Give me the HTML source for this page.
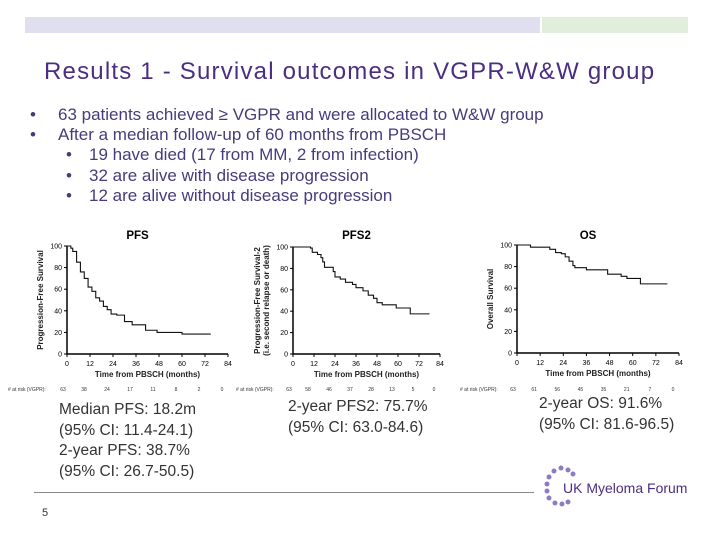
<!DOCTYPE html>
<html><head><meta charset="utf-8"><style>
body{margin:0;width:720px;height:540px;background:#fff;position:relative;overflow:hidden;font-family:"Liberation Sans",sans-serif}
.abs{position:absolute}
.b{position:absolute;font-size:17px;color:#463c7c;white-space:nowrap}
.note{position:absolute;font-size:15.5px;color:#333;line-height:20.7px;white-space:nowrap}
</style></head><body>
<div class="abs" style="left:25px;top:17px;width:515px;height:16px;background:#e0dff0"></div>
<div class="abs" style="left:542px;top:17px;width:146px;height:16px;background:#e2eedc"></div>
<div class="abs" style="left:44px;top:58px;font-size:24px;letter-spacing:1.2px;color:#4b2e83;white-space:nowrap">Results 1 - Survival outcomes in VGPR-W&amp;W group</div>
<div class="b" style="left:30px;top:105px">•<span style="position:absolute;left:28px">63 patients achieved ≥ VGPR and were allocated to W&amp;W group</span></div>
<div class="b" style="left:30px;top:125px">•<span style="position:absolute;left:28px">After a median follow-up of 60 months from PBSCH</span></div>
<div class="b" style="left:66px;top:145px">•<span style="position:absolute;left:23px">19 have died (17 from MM, 2 from infection)</span></div>
<div class="b" style="left:66px;top:166px">•<span style="position:absolute;left:23px">32 are alive with disease progression</span></div>
<div class="b" style="left:66px;top:186px">•<span style="position:absolute;left:23px">12 are alive without disease progression</span></div>
<svg id="ch" class="abs" style="left:0;top:0" width="720" height="540"></svg>
<div class="note" style="left:59px;top:400px">Median PFS: 18.2m<br>(95% CI: 11.4-24.1)<br>2-year PFS: 38.7%<br>(95% CI: 26.7-50.5)</div>
<div class="note" style="left:288px;top:397px">2-year PFS2: 75.7%<br>(95% CI: 63.0-84.6)</div>
<div class="note" style="left:539px;top:394px">2-year OS: 91.6%<br>(95% CI: 81.6-96.5)</div>
<div class="abs" style="left:34px;top:492px;width:500px;height:1px;background:#888"></div>
<div class="abs" style="left:42px;top:507px;font-size:11px;color:#333">5</div>
<div class="abs" style="left:563px;top:480px;font-size:14px;color:#4b2e83;white-space:nowrap">UK Myeloma Forum</div>
<svg class="abs" style="left:540px;top:462px" width="40" height="60">
<g fill="#8e7cc3"><circle cx="14" cy="9" r="2.5"/><circle cx="21" cy="6" r="2.5"/><circle cx="28" cy="8" r="2.5"/><circle cx="33" cy="12" r="2.5"/><circle cx="9" cy="15" r="2.5"/><circle cx="7" cy="22" r="2.5"/><circle cx="7" cy="29" r="2.5"/><circle cx="9" cy="36" r="2.5"/><circle cx="15" cy="41" r="2.5"/><circle cx="22" cy="42" r="2.5"/><circle cx="28" cy="40" r="2.5"/></g></svg>
<script>
const NS="http://www.w3.org/2000/svg";
const xTicks=[0,12,24,36,48,60,72,84];
const yTicks=[0,20,40,60,80,100];
const pfsT=[0,2,3,5,7,9,11,13,15,17,19,21,23,26,30,34,41,47,60,75];
const pfsS=[100,98,95,85,76,70,62,58,52,49,44,41,37,36,30,27,22,20,18.5,18.5];
const pfs2T=[0,10,11,14,16,17,18,23,24,27,30,34,36,40,43,46,48,51,59,67,78];
const pfs2S=[100,99,95,93,90,86,81,77,72,70,67,65,62,59,55,52,48,46,43,37.5,37.5];
const osT=[0,7,17,20,23,25,27,29,30,36,47,54,57,64,78];
const osS=[100,98,96,93,92,89,85,81,79,77,73,71,69,64,64];
const pfsRisk=["63","38","24","17","11","8","2","0"];
const pfs2Risk=["63","58","46","37","28","13","5","0"];
const osRisk=["63","61","56","45","35","21","7","0"];
const svg=document.getElementById('ch');
function mk(tag,attrs,txt){const e=document.createElementNS(NS,tag);for(const k in attrs)e.setAttribute(k,attrs[k]);if(txt!==undefined)e.textContent=txt;svg.appendChild(e);return e;}
function chart(id,ox,oy,x84,y100,T,S,title,ylab,risk,riskX){
  const sx=v=>ox+(x84-ox)*v/84, sy=v=>oy-(oy-y100)*v/100;
  let t=mk('text',{x:(ox+x84)/2-10,y:239,'font-size':11.5,'font-weight':'bold','text-anchor':'middle'},title);
  
  let a=mk('path',{d:`M${ox},${y100} V${oy} H${x84}`,stroke:'#000','stroke-width':1.5,fill:'none'});
  
  xTicks.forEach(v=>{mk('line',{x1:sx(v),x2:sx(v),y1:oy,y2:oy+3,stroke:'#000'});
    const l=mk('text',{x:sx(v),y:oy+12,'font-size':7,'text-anchor':'middle'},v);
    });
  yTicks.forEach(v=>{mk('line',{x1:ox-3,x2:ox,y1:sy(v),y2:sy(v),stroke:'#000'});
    const l=mk('text',{x:ox-5,y:sy(v)+2.5,'font-size':7,'text-anchor':'end'},v);
    });
  let xl=mk('text',{x:(ox+x84)/2,y:oy+23,'font-size':8,'font-weight':'bold','text-anchor':'middle',fill:'#222'},'Time from PBSCH (months)');
  
  ylab.forEach((s,i)=>{const yl=mk('text',{transform:`translate(${ox-24+i*9-(ylab.length-1)*9},${(oy+y100)/2}) rotate(-90)`,'font-size':8,'font-weight':'bold','text-anchor':'middle',fill:'#222'},s);
    });
  let d=`M${sx(T[0])},${sy(S[0])}`;
  for(let i=1;i<T.length;i++){d+=` H${sx(T[i])} V${sy(S[i])}`;}
  const p=mk('path',{d:d,stroke:'#111','stroke-width':1.1,fill:'none'});
  
  const rl=mk('text',{x:riskX,y:391,'font-size':5,fill:'#333'},'# at risk (VGPR):');
  
  risk.forEach((r,i)=>{const e=mk('text',{x:sx(xTicks[i])-4+ (i===0?0:-2),y:391,'font-size':5,fill:'#333','text-anchor':'middle'},r);
    });
}
chart('pfs',67,354,228,246,pfsT,pfsS,'PFS',['Progression-Free Survival'],pfsRisk,8);
chart('pfs2',293,354,440,247,pfs2T,pfs2S,'PFS2',['Progression-Free Survival-2','(i.e. second relapse or death)'],pfs2Risk,236);
chart('os',517,353,679,245,osT,osS,'OS',['Overall Survival'],osRisk,460);
</script>
</body></html>
